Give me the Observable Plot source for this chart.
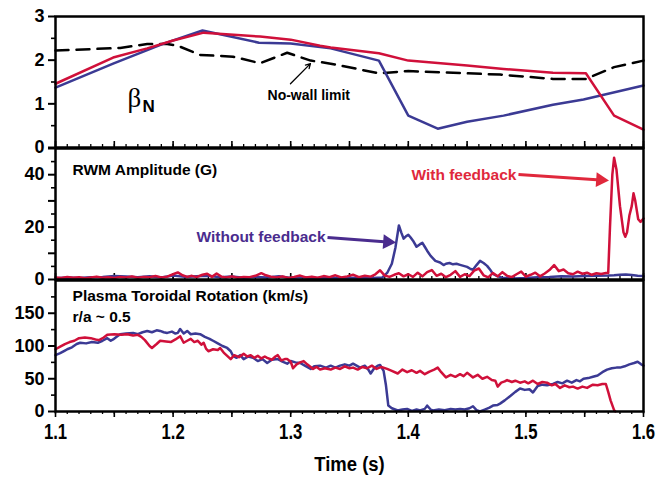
<!DOCTYPE html>
<html>
<head>
<meta charset="utf-8">
<script src="https://cdn.jsdelivr.net/npm/d3@7"></script>
<script src="https://cdn.jsdelivr.net/npm/@observablehq/plot@0.6"></script>
<style>
  body { margin: 0; background: white; }
  #chart { position: relative; width: 658px; height: 480px; }
  #chart svg { position: absolute; left: 0; }
</style>
</head>
<body>
<div id="chart"></div>
<script>
// ---------- DATA ----------
// Panel 1: beta_N
const betaWithFb = [[1.100,1.46],[1.149,2.06],[1.178,2.27],[1.200,2.45],[1.226,2.63],[1.274,2.54],[1.300,2.47],[1.325,2.33],[1.334,2.29],[1.375,2.16],[1.400,1.99],[1.450,1.88],[1.481,1.80],[1.523,1.71],[1.551,1.70],[1.575,0.73],[1.600,0.41]];
const betaNoFb = [[1.100,1.37],[1.149,1.92],[1.192,2.38],[1.225,2.68],[1.273,2.40],[1.300,2.38],[1.334,2.27],[1.375,1.99],[1.400,0.73],[1.425,0.43],[1.450,0.59],[1.481,0.73],[1.523,0.98],[1.549,1.10],[1.600,1.42]];
const noWallLimit = [[1.100,2.22],[1.155,2.28],[1.178,2.37],[1.195,2.37],[1.204,2.33],[1.223,2.12],[1.251,2.08],[1.274,1.93],[1.297,2.17],[1.317,1.99],[1.334,1.92],[1.375,1.70],[1.400,1.75],[1.478,1.67],[1.523,1.57],[1.551,1.57],[1.575,1.84],[1.600,1.99]];

// Panel 2: RWM amplitude (G)
const rwmWithFb = [[1.100,0.8],[1.105,0.6],[1.110,1.0],[1.115,0.7],[1.120,0.9],[1.125,0.5],[1.130,0.8],[1.135,1.1],[1.140,0.7],[1.145,0.9],[1.150,0.6],[1.155,1.0],[1.160,0.8],[1.165,1.2],[1.170,0.7],[1.175,1.0],[1.180,0.9],[1.185,1.3],[1.190,0.8],[1.195,1.1],[1.200,2.0],[1.204,2.7],[1.208,1.6],[1.212,1.0],[1.216,1.4],[1.220,0.9],[1.225,1.8],[1.229,2.2],[1.233,1.0],[1.237,2.3],[1.241,1.1],[1.245,0.8],[1.250,1.2],[1.255,0.7],[1.260,1.0],[1.265,0.9],[1.270,1.4],[1.275,2.4],[1.279,1.6],[1.283,1.1],[1.288,0.8],[1.293,1.2],[1.298,0.6],[1.303,1.0],[1.308,1.5],[1.313,0.8],[1.318,1.1],[1.323,0.7],[1.328,1.3],[1.333,0.9],[1.338,1.6],[1.343,0.8],[1.348,1.2],[1.353,1.8],[1.358,0.9],[1.363,1.4],[1.368,1.1],[1.372,2.0],[1.376,3.5],[1.380,1.5],[1.384,1.0],[1.388,1.8],[1.392,2.4],[1.396,1.2],[1.400,2.0],[1.404,1.0],[1.408,2.6],[1.412,1.2],[1.416,2.8],[1.420,3.6],[1.424,1.4],[1.428,2.2],[1.432,0.9],[1.436,1.8],[1.440,3.2],[1.444,1.0],[1.448,2.0],[1.452,1.3],[1.456,3.4],[1.460,4.2],[1.464,1.6],[1.468,0.8],[1.472,2.5],[1.476,1.2],[1.480,2.8],[1.484,1.4],[1.488,0.9],[1.492,2.0],[1.496,3.0],[1.500,1.1],[1.504,1.8],[1.508,2.6],[1.512,1.2],[1.516,2.3],[1.520,3.6],[1.524,5.5],[1.528,3.2],[1.532,3.8],[1.536,2.4],[1.540,2.0],[1.544,3.0],[1.548,2.2],[1.552,2.6],[1.556,1.8],[1.560,2.4],[1.564,2.1],[1.568,2.5],[1.570,2.5],[1.5715,20],[1.5735,40],[1.575,46.5],[1.577,42],[1.580,28],[1.583,18],[1.5845,16.3],[1.586,18],[1.588,24.4],[1.590,28],[1.5915,32.9],[1.593,30],[1.5955,23],[1.5975,22],[1.600,23.3]];
const rwmNoFb = [[1.100,0.5],[1.110,0.8],[1.120,0.6],[1.130,0.9],[1.140,1.0],[1.150,1.3],[1.160,1.1],[1.170,0.9],[1.180,1.2],[1.190,0.8],[1.200,1.5],[1.210,1.0],[1.220,1.2],[1.230,1.4],[1.240,0.9],[1.250,1.1],[1.260,0.7],[1.270,1.0],[1.280,0.8],[1.290,1.2],[1.300,0.6],[1.310,0.9],[1.320,0.5],[1.330,0.8],[1.340,0.6],[1.350,0.7],[1.360,0.5],[1.370,0.6],[1.378,0.8],[1.382,2.5],[1.386,6],[1.389,12],[1.392,20.6],[1.394,18],[1.396,15.6],[1.398,16.5],[1.400,17.1],[1.402,16],[1.404,14.8],[1.407,12.5],[1.410,13.5],[1.412,14.0],[1.414,12.5],[1.416,11.0],[1.419,9],[1.423,7.1],[1.427,6.5],[1.430,5.5],[1.432,6.0],[1.435,6.3],[1.438,5.8],[1.441,6.0],[1.444,5.6],[1.447,5.2],[1.450,4.8],[1.453,4.0],[1.455,3.7],[1.458,5.5],[1.461,7.1],[1.464,6.3],[1.467,5.2],[1.470,3.5],[1.472,2.1],[1.476,1.2],[1.480,0.7],[1.484,0.6],[1.490,0.4],[1.500,0.6],[1.510,0.9],[1.520,1.0],[1.530,1.2],[1.540,1.1],[1.550,1.3],[1.560,1.4],[1.570,1.5],[1.575,1.6],[1.580,1.8],[1.585,1.9],[1.590,1.7],[1.595,1.4],[1.600,1.3]];

// Panel 3: plasma toroidal rotation (km/s)
const rotWithFb = [[1.100,95],[1.104,99],[1.108,103],[1.112,106],[1.116,108],[1.120,112],[1.125,113],[1.130,112],[1.134,110],[1.137,109],[1.141,113],[1.144,117],[1.150,118],[1.156,117],[1.161,118],[1.166,116],[1.170,117],[1.173,114],[1.176,109],[1.180,100],[1.182,97],[1.186,103],[1.189,108],[1.194,107],[1.198,106],[1.202,110],[1.206,115],[1.209,105],[1.212,108],[1.215,111],[1.218,106],[1.221,108],[1.224,102],[1.226,105],[1.228,96],[1.230,92],[1.234,95],[1.238,94],[1.240,97],[1.243,90],[1.246,85],[1.249,80],[1.252,86],[1.256,83],[1.260,88],[1.263,84],[1.266,86],[1.269,82],[1.272,85],[1.275,81],[1.278,84],[1.280,82],[1.284,79],[1.287,84],[1.289,86],[1.292,78],[1.295,80],[1.297,80],[1.300,76],[1.302,66],[1.305,72],[1.308,75],[1.311,77],[1.314,72],[1.317,68],[1.319,65],[1.322,68],[1.325,64],[1.329,66],[1.334,64],[1.338,67],[1.342,65],[1.346,69],[1.350,66],[1.353,67],[1.357,64],[1.361,68],[1.365,66],[1.369,70],[1.373,65],[1.377,68],[1.382,65],[1.386,62],[1.391,58],[1.395,64],[1.399,60],[1.403,63],[1.407,59],[1.410,62],[1.414,57],[1.418,61],[1.422,64],[1.425,67],[1.428,60],[1.432,52],[1.436,56],[1.440,53],[1.444,57],[1.447,54],[1.450,59],[1.453,55],[1.455,52],[1.459,56],[1.463,50],[1.467,53],[1.471,48],[1.474,47],[1.476,38],[1.479,44],[1.482,46],[1.484,48],[1.488,45],[1.491,47],[1.495,44],[1.499,46],[1.502,43],[1.506,47],[1.510,42],[1.514,45],[1.518,44],[1.522,40],[1.525,42],[1.529,36],[1.533,40],[1.537,37],[1.540,38],[1.544,35],[1.548,38],[1.552,36],[1.555,39],[1.557,41],[1.561,40],[1.565,42],[1.568,42],[1.570,30],[1.572,17],[1.575,2],[1.576,0]];
const rotNoFb = [[1.100,86],[1.104,89],[1.108,93],[1.110,95],[1.114,98],[1.118,103],[1.121,105],[1.126,104],[1.131,106],[1.136,105],[1.140,108],[1.144,112],[1.147,108],[1.149,110],[1.152,114],[1.155,118],[1.160,119],[1.166,120],[1.170,118],[1.174,121],[1.178,123],[1.182,121],[1.186,124],[1.189,123],[1.192,121],[1.195,120],[1.199,122],[1.202,119],[1.204,120],[1.206,126],[1.209,119],[1.212,123],[1.215,118],[1.219,119],[1.223,118],[1.227,114],[1.231,111],[1.234,108],[1.238,104],[1.242,100],[1.246,97],[1.249,92],[1.251,85],[1.254,82],[1.257,86],[1.260,80],[1.264,84],[1.268,82],[1.272,77],[1.276,80],[1.280,74],[1.284,79],[1.289,80],[1.293,76],[1.297,73],[1.300,77],[1.304,75],[1.308,74],[1.312,70],[1.317,65],[1.320,69],[1.325,70],[1.330,67],[1.334,70],[1.338,67],[1.342,70],[1.346,72],[1.350,70],[1.353,73],[1.356,70],[1.359,67],[1.363,70],[1.366,64],[1.368,58],[1.371,66],[1.374,70],[1.376,71],[1.379,62],[1.381,40],[1.383,9],[1.386,5],[1.391,1.5],[1.395,3],[1.399,4],[1.403,1],[1.407,3],[1.410,1.5],[1.414,4],[1.416,9],[1.419,3],[1.421,1.5],[1.426,3],[1.431,2],[1.436,4],[1.440,3],[1.444,4],[1.448,3],[1.452,5],[1.455,8],[1.458,2],[1.461,0],[1.465,3],[1.469,6],[1.472,9],[1.476,10],[1.478,12],[1.482,17],[1.487,24],[1.491,30],[1.495,35],[1.499,33],[1.503,34],[1.506,29],[1.510,39],[1.514,41],[1.518,40],[1.523,42],[1.527,45],[1.531,43],[1.535,47],[1.539,44],[1.543,48],[1.546,46],[1.549,50],[1.553,51],[1.557,53],[1.561,55],[1.565,60],[1.569,64],[1.573,66],[1.577,67],[1.580,67],[1.584,69],[1.588,72],[1.592,74],[1.595,76],[1.598,72],[1.600,70]];

// Tick labels
const xLabels = [1.1, 1.2, 1.3, 1.4, 1.5, 1.6];
const xMajorTicks = [1.1, 1.15, 1.2, 1.25, 1.3, 1.35, 1.4, 1.45, 1.5, 1.55, 1.6];
const betaTicks = [0, 1, 2, 3];
const betaMinor = [0.5, 1.5, 2.5];
const rwmTicks = [0, 20, 40];
const rwmMid = [10, 30, 50];
const rwmMinor = [5, 15, 25, 35, 45];
const rotTicks = [0, 50, 100, 150];
const rotMinor = [25, 75, 125, 175];

// ---------- STYLE ----------
const FONT = "'Liberation Sans', Arial, Helvetica, sans-serif";
const RED = "#d0103a";
const BLUE = "#3b3a94";
const RED_TXT = "#e0283c";
const PURPLE_TXT = "#4a2c8e";
const xMinorTicks = d3.range(110, 161).map(d => d / 100);
const X = d => d[0], Y = d => d[1];
const baseStyle = {fontFamily: FONT, fontWeight: "bold", background: "none", overflow: "visible", color: "black"};
const W = 658, ML = 55, MR = 15;

function yAxes(major, minor, mid) {
  const m = [
    Plot.axisY({ticks: major, tickSize: 7, tickPadding: 4, fontSize: 18, strokeWidth: 2, tickFormat: d => String(d)}),
    Plot.axisY({ticks: minor, tickSize: 4, strokeWidth: 1.6, text: null})
  ];
  if (mid) m.push(Plot.axisY({ticks: mid, tickSize: 7, strokeWidth: 2, text: null}));
  return m;
}

// Panel 1
const p1 = Plot.plot({
  width: W, height: 148, marginTop: 16, marginBottom: 1, marginLeft: ML, marginRight: MR,
  style: baseStyle,
  x: {domain: [1.1, 1.6], label: null},
  y: {domain: [0, 3], label: null},
  marks: [
    ...yAxes(betaTicks, betaMinor),
    Plot.axisX({ticks: xMinorTicks, tickSize: -3, strokeWidth: 1.3, text: null}),
    Plot.axisX({ticks: xMajorTicks, tickSize: -6, strokeWidth: 1.6, text: null}),
    Plot.line(noWallLimit, {x: X, y: Y, stroke: "black", strokeWidth: 2.5, strokeDasharray: "13,8"}),
    Plot.line(betaNoFb, {x: X, y: Y, stroke: BLUE, strokeWidth: 2.5}),
    Plot.line(betaWithFb, {x: X, y: Y, stroke: RED, strokeWidth: 2.5}),
    Plot.text(["β"], {x: 1.1612, y: 1.12, textAnchor: "start", fontSize: 27, fontWeight: "normal", fontFamily: "'Liberation Serif', 'DejaVu Serif', serif"}),
    Plot.text(["N"], {x: 1.174, y: 0.94, textAnchor: "start", fontSize: 17, fontWeight: "bold"}),
    Plot.text(["No-wall limit"], {x: 1.2803, y: 1.20, textAnchor: "start", fontSize: 14, fontWeight: "bold"}),
    Plot.arrow([0], {x1: 1.2998, y1: 1.46, x2: 1.3168, y2: 1.92, stroke: "black", strokeWidth: 1.3, headLength: 6, bend: 0}),
    Plot.frame({stroke: "black", strokeWidth: 2.5})
  ]
});

// Panel 2
const p2 = Plot.plot({
  width: W, height: 133, marginTop: 1, marginBottom: 1, marginLeft: ML, marginRight: MR,
  style: baseStyle,
  x: {domain: [1.1, 1.6], label: null},
  y: {domain: [0, 50], label: null},
  marks: [
    ...yAxes(rwmTicks, rwmMinor, rwmMid),
    Plot.axisX({ticks: xMinorTicks, tickSize: -3, strokeWidth: 1.3, text: null}),
    Plot.axisX({ticks: xMajorTicks, tickSize: -6, strokeWidth: 1.6, text: null}),
    Plot.line(rwmNoFb, {x: X, y: Y, stroke: BLUE, strokeWidth: 2.5}),
    Plot.line(rwmWithFb, {x: X, y: Y, stroke: RED, strokeWidth: 2.5}),
    Plot.text(["RWM Amplitude (G)"], {x: 1.1145, y: 41.6, textAnchor: "start", fontSize: 15.5, fontWeight: "bold"}),
    Plot.text(["Without feedback"], {x: 1.2199, y: 16.2, textAnchor: "start", fontSize: 15.5, fontWeight: "bold", fill: PURPLE_TXT}),
    Plot.link([0], {x1: 1.3313, y1: 16.0, x2: 1.3823, y2: 14.35, stroke: PURPLE_TXT, strokeWidth: 3}),
    Plot.dot([0], {x: 1.3823, y: 14.35, symbol: "triangle", r: 5.5, fill: PURPLE_TXT, stroke: "none", rotate: 94}),
    Plot.text(["With feedback"], {x: 1.4027, y: 40.0, textAnchor: "start", fontSize: 15.5, fontWeight: "bold", fill: RED_TXT}),
    Plot.link([0], {x1: 1.4937, y1: 40.1, x2: 1.5634, y2: 38.0, stroke: RED_TXT, strokeWidth: 3}),
    Plot.dot([0], {x: 1.5634, y: 38.0, symbol: "triangle", r: 5.5, fill: RED_TXT, stroke: "none", rotate: 93.8}),
    Plot.frame({stroke: "black", strokeWidth: 2.5})
  ]
});

// Panel 3
const p3 = Plot.plot({
  width: W, height: 201, marginTop: 1, marginBottom: 69, marginLeft: ML, marginRight: MR,
  style: baseStyle,
  x: {domain: [1.1, 1.6], label: null},
  y: {domain: [0, 200], label: null},
  marks: [
    ...yAxes(rotTicks, rotMinor),
    Plot.axisX({ticks: xMinorTicks, tickSize: 3, strokeWidth: 1.3, text: null}),
    Plot.axisX({ticks: xMajorTicks, tickSize: 6, strokeWidth: 1.6, text: null}),
    Plot.axisX({ticks: xLabels, tickSize: 0, tickPadding: 27, fontSize: 22, tickFormat: d3.format(".1f")}),
    Plot.line(rotNoFb, {x: X, y: Y, stroke: BLUE, strokeWidth: 2.5}),
    Plot.line(rotWithFb, {x: X, y: Y, stroke: RED, strokeWidth: 2.5}),
    Plot.text(["Plasma Toroidal Rotation (km/s)"], {x: 1.1145, y: 176.2, textAnchor: "start", fontSize: 15.5, fontWeight: "bold"}),
    Plot.text(["r/a ~ 0.5"], {x: 1.1145, y: 143.7, textAnchor: "start", fontSize: 15.5, fontWeight: "bold"}),
    Plot.text(["Time (s)"], {frameAnchor: "bottom", dy: 59, fontSize: 21, fontWeight: "bold"}),
    Plot.frame({stroke: "black", strokeWidth: 2.5})
  ]
});

const chart = document.getElementById("chart");
[[p1, 0], [p2, 147], [p3, 279]].forEach(([svg, top]) => {
  svg.style.top = top + "px";
  chart.appendChild(svg);
});

// Horizontally condense tall x tick labels and axis title (as in the reference)
function condense(el, k) {
  if (el.hasAttribute("x") || el.hasAttribute("y")) {
    const x = +el.getAttribute("x") || 0, y = +el.getAttribute("y") || 0;
    el.removeAttribute("x"); el.removeAttribute("y");
    el.setAttribute("transform", `${el.getAttribute("transform") || ""} translate(${x},${y}) scale(${k},1)`);
  } else {
    el.setAttribute("transform", `${el.getAttribute("transform") || ""} scale(${k},1)`);
  }
}
p3.querySelectorAll('g[aria-label="x-axis tick label"] text').forEach(t => condense(t, 0.76));
p3.querySelectorAll("text").forEach(t => { if (t.textContent === "Time (s)") condense(t, 0.88); });
</script>
</body>
</html>
